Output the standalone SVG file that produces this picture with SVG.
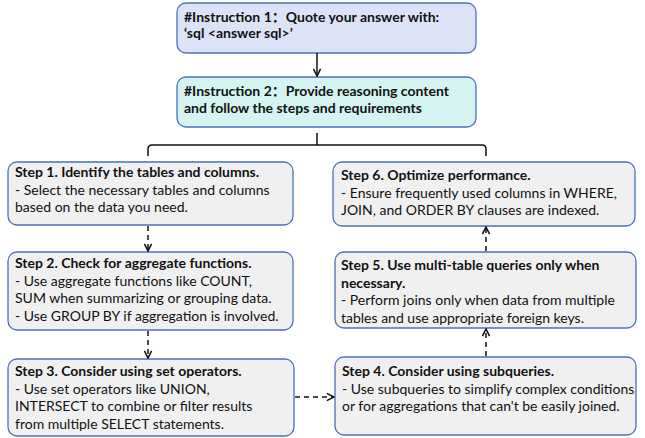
<svg xmlns="http://www.w3.org/2000/svg" width="645" height="438" viewBox="0 0 645 438">
<defs>
<style>
.t{font-family:Lato,"Noto Sans CJK SC","Liberation Sans",sans-serif;font-size:14px;fill:#111}
.b{font-weight:bold}
.step{fill:#f0f0f0;stroke:#4a72b8;stroke-width:1.3}
.c{fill:none;stroke:#111;stroke-width:1.5}
.d{stroke-dasharray:5 4}
</style>
<marker id="ah" viewBox="0 0 10 10" refX="9" refY="5" markerWidth="9" markerHeight="9" markerUnits="userSpaceOnUse" orient="auto">
<path d="M1,1 L9,5 L1,9" fill="none" stroke="#111" stroke-width="1.7"/>
</marker>
</defs>
<rect width="645" height="438" fill="#fff"/>
<g id="instr1">
<rect x="177" y="3" width="299" height="50" rx="9" fill="#dce3f6" stroke="#4a72b8" stroke-width="1.3"/>
<text class="t b" x="184" y="22">#Instruction 1：Quote your answer with:</text>
<text class="t b" x="184" y="38">‘sql &lt;answer sql&gt;’</text>
</g>
<g id="instr2">
<rect x="177" y="77" width="299" height="50" rx="9" fill="#d4f3f1" stroke="#4a72b8" stroke-width="1.3"/>
<text class="t b" x="184" y="96">#Instruction 2：Provide reasoning content</text>
<text class="t b" x="184" y="113">and follow the steps and requirements</text>
</g>
<g id="step1">
<rect class="step" x="8" y="162" width="285" height="63" rx="9"/>
<text class="t b" x="15" y="177">Step 1. Identify the tables and columns.</text>
<text class="t" x="15" y="194.5">- Select the necessary tables and columns</text>
<text class="t" x="15" y="212">based on the data you need.</text>
</g>
<g id="step2">
<rect class="step" x="8" y="252" width="285" height="78" rx="9"/>
<text class="t b" x="15" y="268">Step 2. Check for aggregate functions.</text>
<text class="t" x="15" y="285.5">- Use aggregate functions like COUNT,</text>
<text class="t" x="15" y="303">SUM when summarizing or grouping data.</text>
<text class="t" x="15" y="320.5">- Use GROUP BY if aggregation is involved.</text>
</g>
<g id="step3">
<rect class="step" x="8" y="359" width="286" height="77" rx="9"/>
<text class="t b" x="15" y="376">Step 3. Consider using set operators.</text>
<text class="t" x="15" y="393.5">- Use set operators like UNION,</text>
<text class="t" x="15" y="411">INTERSECT to combine or filter results</text>
<text class="t" x="15" y="428.5">from multiple SELECT statements.</text>
</g>
<g id="step4">
<rect class="step" x="335" y="357" width="301" height="78" rx="9"/>
<text class="t b" x="342" y="376">Step 4. Consider using subqueries.</text>
<text class="t" x="342" y="393.5">- Use subqueries to simplify complex conditions</text>
<text class="t" x="342" y="411">or for aggregations that can't be easily joined.</text>
</g>
<g id="step5">
<rect class="step" x="335" y="252" width="301" height="76" rx="9"/>
<text class="t b" x="341" y="270">Step 5. Use multi-table queries only when</text>
<text class="t b" x="341" y="287.5">necessary.</text>
<text class="t" x="341" y="305">- Perform joins only when data from multiple</text>
<text class="t" x="341" y="322.5">tables and use appropriate foreign keys.</text>
</g>
<g id="step6">
<rect class="step" x="333" y="162" width="302" height="64" rx="9"/>
<text class="t b" x="341" y="180">Step 6. Optimize performance.</text>
<text class="t" x="341" y="197.5">- Ensure frequently used columns in WHERE,</text>
<text class="t" x="341" y="215">JOIN, and ORDER BY clauses are indexed.</text>
</g>
<g id="connectors">
<path class="c" d="M317,53 V76" marker-end="url(#ah)"/>
<path class="c" d="M317,133 V145 M148,156 V149 Q148,145 152,145 H482 Q486,145 486,149 V156" stroke="#333"/>
<path class="c d" d="M148,226 V251" marker-end="url(#ah)"/>
<path class="c d" d="M148,331 V358" marker-end="url(#ah)"/>
<path class="c d" d="M295,397 H334" marker-end="url(#ah)"/>
<path class="c d" d="M486,356 V329" marker-end="url(#ah)"/>
<path class="c d" d="M486,251 V227" marker-end="url(#ah)"/>
</g>
</svg>
